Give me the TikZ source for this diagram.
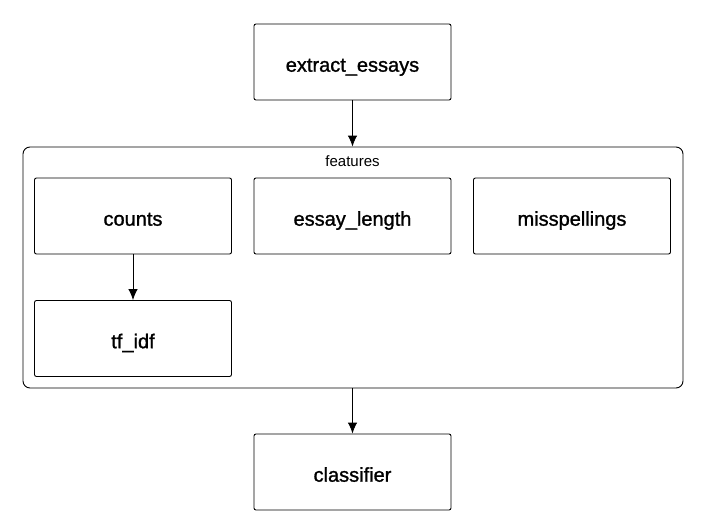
\documentclass[tikz,border=0pt]{standalone}
\usepackage{fontspec}
\setmainfont{Liberation Sans}
\newfontfamily\boxfont{Liberation Sans}[FakeBold=1.2]
\usetikzlibrary{arrows.meta}

\begin{document}
\begin{tikzpicture}[x=1pt, y=-1pt,
						step box/.style={draw, rounded corners=2pt, line width=0.9pt,
							minimum width=197pt, minimum height=76pt, inner sep=0pt,
							text height=19.4pt, text depth=0pt,
							font=\boxfont\fontsize{20}{24}\selectfont},
						every path/.style={>={Latex[length=11pt, width=9.5pt]}, line width=0.9pt}]
					\useasboundingbox (0,0) rectangle (705,530);
					\node [draw, rounded corners=7pt, line width=0.9pt, minimum width=660pt,
						minimum height=241pt, inner sep=0pt] (F) at (353,267.5) {};
					\node [font=\fontsize{15}{18}\selectfont, anchor=base] (FL) at (352.5,166) {features};

					\node [step box] (E) at (352.5,62) {extract\_essays};
					\node [step box] (C) at (133,216) {counts};
					\node [step box] (L) at (352.5,216) {essay\_length};
					\node [step box] (M) at (572,216) {misspellings};
					\node [step box] (T) at (133,338.5) {tf\_idf};
					\node [step box] (K) at (352.5,472) {classifier};

					\path [->] (E) edge (F.north -| E);
					\path [->] (C) edge (T);
					\path [->] (F.south -| K) edge (K);
				\end{tikzpicture}
\end{document}
